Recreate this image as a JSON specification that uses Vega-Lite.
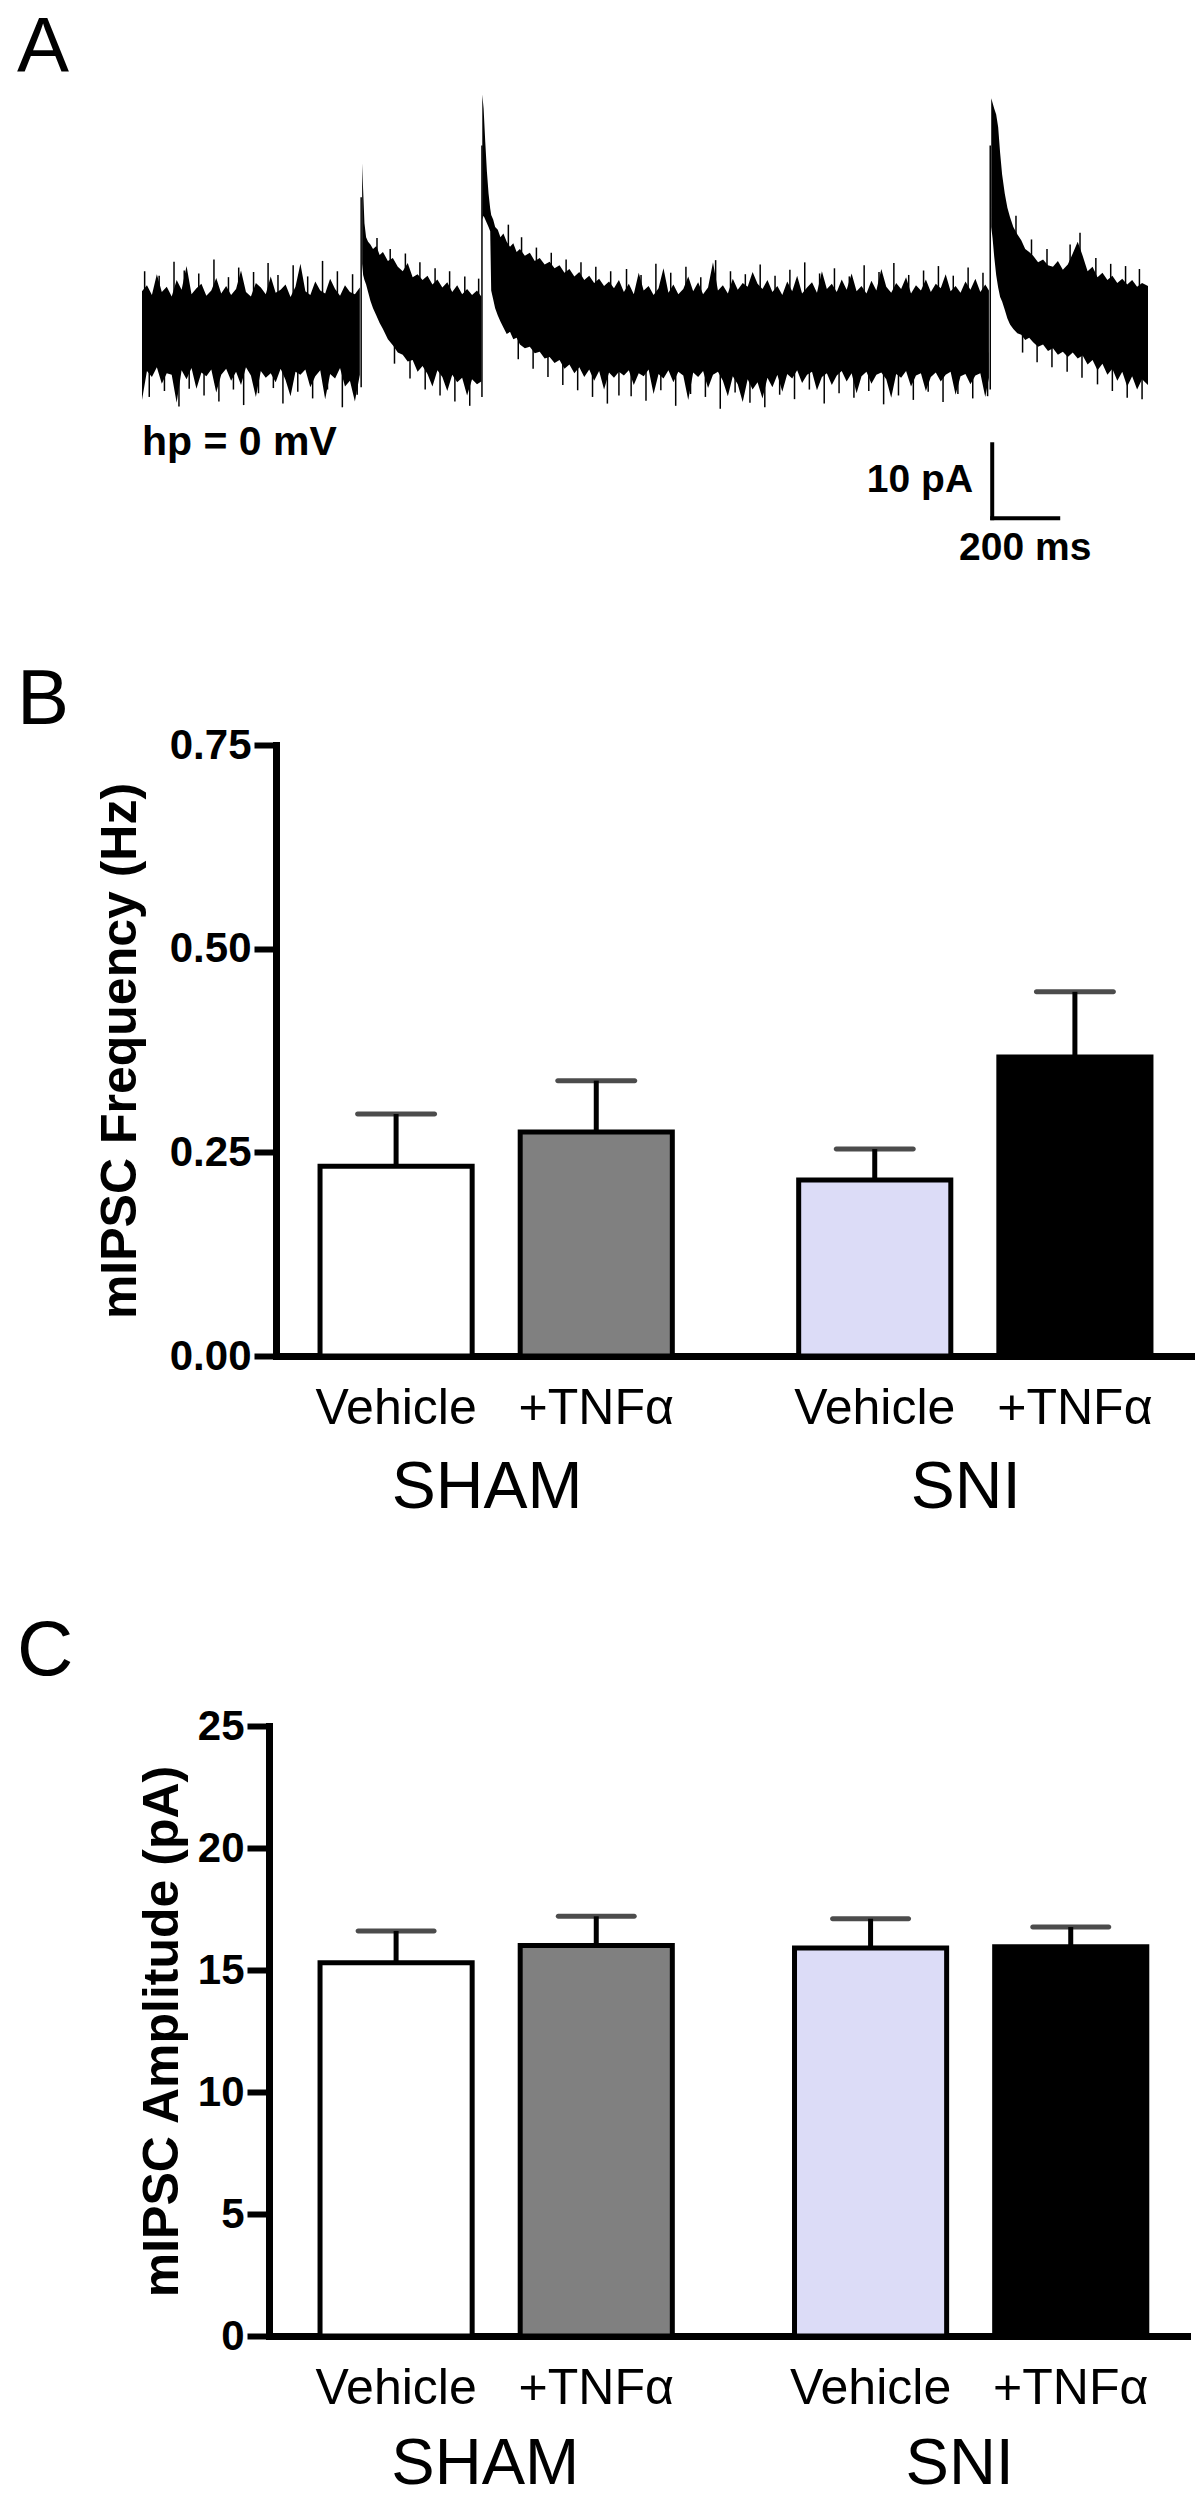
{
  "$schema": "https://vega.github.io/schema/vega-lite/v6.json",
  "background": "white",
  "padding": {"left": 17, "top": 10, "right": 0, "bottom": 0},
  "config": {
    "view": {"stroke": null},
    "font": "Liberation Sans",
    "text": {"font": "Liberation Sans", "color": "black"},
    "axis": {
      "domainColor": "black", "domainWidth": 7, "domainCap": "square",
      "tickColor": "black", "tickWidth": 6, "tickSize": 22,
      "labelColor": "black", "labelFont": "Liberation Sans", "labelFontSize": 42, "labelFontWeight": "bold", "labelPadding": 3,
      "labelFlush": false, "labelOverlap": false, "labelBound": false, "labelLimit": 0,
      "titleColor": "black", "titleFont": "Liberation Sans", "titleFontSize": 50, "titleFontWeight": "bold",
      "grid": false
    },
    "axisX": {"ticks": false, "tickSize": 0, "labelFontSize": 66, "labelFontWeight": "normal", "labelPadding": 99, "labelAngle": 0, "labelOffset": -9, "labelLimit": 0}
  },
  "columns": 1,
  "spacing": 93,
  "concat": [
    {
      "width": 872,
      "height": 488,
      "title": {"text": "A", "anchor": "start", "frame": "group", "fontSize": 78, "fontWeight": "normal", "font": "Liberation Sans", "color": "black", "dx": -259, "offset": -71, "baseline": "alphabetic"},
      "layer": [
        {
          "data": {"values": [
            {"s":1,"t":0,"h":5.3,"l":-9.4},{"s":1,"t":15,"h":6.1,"l":-5.5},{"s":1,"t":30,"h":4.8,"l":-6.3},{"s":1,"t":45,"h":7.6,"l":-5.0},{"s":1,"t":60,"h":5.2,"l":-7.2},
            {"s":1,"t":75,"h":5.9,"l":-5.8},{"s":1,"t":90,"h":4.6,"l":-6.0},{"s":1,"t":105,"h":6.8,"l":-9.8},{"s":1,"t":120,"h":5.5,"l":-5.4},{"s":1,"t":135,"h":8.7,"l":-6.6},
            {"s":1,"t":150,"h":4.9,"l":-5.1},{"s":1,"t":165,"h":5.7,"l":-7.9},{"s":1,"t":180,"h":6.3,"l":-5.7},{"s":1,"t":195,"h":4.7,"l":-6.2},{"s":1,"t":210,"h":5.4,"l":-5.3},
            {"s":1,"t":225,"h":7.1,"l":-8.4},{"s":1,"t":240,"h":5.0,"l":-6.0},{"s":1,"t":255,"h":6.0,"l":-5.2},{"s":1,"t":270,"h":4.8,"l":-6.8},{"s":1,"t":285,"h":5.6,"l":-5.6},
            {"s":1,"t":300,"h":8.1,"l":-7.4},{"s":1,"t":315,"h":5.2,"l":-5.0},{"s":1,"t":330,"h":4.6,"l":-6.1},{"s":1,"t":345,"h":6.4,"l":-9.0},{"s":1,"t":360,"h":5.8,"l":-5.5},
            {"s":1,"t":375,"h":4.9,"l":-6.4},{"s":1,"t":390,"h":7.3,"l":-5.8},{"s":1,"t":405,"h":5.1,"l":-7.0},{"s":1,"t":420,"h":5.5,"l":-5.2},{"s":1,"t":435,"h":6.2,"l":-6.7},
            {"s":1,"t":450,"h":4.5,"l":-8.9},{"s":1,"t":465,"h":5.9,"l":-5.6},{"s":1,"t":480,"h":9.0,"l":-6.0},{"s":1,"t":495,"h":5.3,"l":-5.3},{"s":1,"t":510,"h":4.8,"l":-7.7},
            {"s":1,"t":525,"h":6.6,"l":-6.2},{"s":1,"t":540,"h":5.4,"l":-5.4},{"s":1,"t":555,"h":5.0,"l":-9.3},{"s":1,"t":570,"h":7.0,"l":-5.9},{"s":1,"t":585,"h":5.6,"l":-6.5},
            {"s":1,"t":600,"h":4.7,"l":-5.1},{"s":1,"t":615,"h":6.1,"l":-7.6},{"s":1,"t":630,"h":5.2,"l":-6.8},{"s":1,"t":645,"h":4.9,"l":-9.6},{"s":1,"t":660,"h":5.8,"l":-6.0},
            {"s":2,"t":667,"h":22.6,"l":9.0},{"s":2,"t":670,"h":19.0,"l":7.5},{"s":2,"t":674,"h":14.5,"l":6.8},{"s":2,"t":679,"h":12.6,"l":6.2},{"s":2,"t":685,"h":12.0,"l":5.2},
            {"s":2,"t":692,"h":11.6,"l":4.0},{"s":2,"t":700,"h":11.0,"l":3.0},{"s":2,"t":710,"h":11.4,"l":2.0},{"s":2,"t":720,"h":10.2,"l":1.0},{"s":2,"t":730,"h":10.6,"l":0.2},
            {"s":2,"t":745,"h":9.4,"l":-1.2},{"s":2,"t":760,"h":9.8,"l":-2.0},{"s":2,"t":775,"h":8.6,"l":-3.0},{"s":2,"t":790,"h":8.0,"l":-3.3},{"s":2,"t":805,"h":9.1,"l":-4.2},
            {"s":2,"t":820,"h":7.2,"l":-4.0},{"s":2,"t":835,"h":7.6,"l":-5.6},{"s":2,"t":850,"h":6.8,"l":-4.8},{"s":2,"t":865,"h":7.4,"l":-5.9},{"s":2,"t":880,"h":6.2,"l":-7.6},
            {"s":2,"t":895,"h":6.9,"l":-5.4},{"s":2,"t":910,"h":5.8,"l":-6.3},{"s":2,"t":925,"h":6.5,"l":-8.2},{"s":2,"t":940,"h":5.2,"l":-6.0},{"s":2,"t":955,"h":6.1,"l":-7.0},
            {"s":2,"t":970,"h":4.9,"l":-6.4},{"s":2,"t":985,"h":5.6,"l":-8.8},{"s":2,"t":1000,"h":4.8,"l":-6.6},{"s":2,"t":1015,"h":5.4,"l":-7.3},{"s":2,"t":1028,"h":4.6,"l":-6.9},
            {"s":3,"t":1031,"h":31.9,"l":15.0},{"s":3,"t":1035,"h":30.0,"l":15.5},{"s":3,"t":1040,"h":25.5,"l":15.0},{"s":3,"t":1045,"h":21.5,"l":14.5},{"s":3,"t":1050,"h":18.5,"l":14.0},
            {"s":3,"t":1055,"h":16.5,"l":13.4},{"s":3,"t":1058,"h":15.6,"l":5.4},{"s":3,"t":1064,"h":15.0,"l":4.2},{"s":3,"t":1070,"h":14.0,"l":3.0},{"s":3,"t":1078,"h":13.6,"l":2.0},
            {"s":3,"t":1086,"h":12.6,"l":1.2},{"s":3,"t":1095,"h":13.1,"l":0.4},{"s":3,"t":1105,"h":12.0,"l":-0.5},{"s":3,"t":1115,"h":11.3,"l":-0.2},{"s":3,"t":1125,"h":11.8,"l":-1.2},
            {"s":3,"t":1135,"h":10.6,"l":-1.0},{"s":3,"t":1145,"h":11.0,"l":-1.9},{"s":3,"t":1160,"h":10.1,"l":-2.4},{"s":3,"t":1175,"h":10.5,"l":-2.2},{"s":3,"t":1190,"h":9.4,"l":-3.1},
            {"s":3,"t":1205,"h":9.8,"l":-2.9},{"s":3,"t":1220,"h":8.9,"l":-3.8},{"s":3,"t":1235,"h":9.3,"l":-3.6},{"s":3,"t":1250,"h":8.4,"l":-4.4},{"s":3,"t":1265,"h":8.8,"l":-4.0},
            {"s":3,"t":1280,"h":7.8,"l":-5.2},{"s":3,"t":1295,"h":8.3,"l":-4.6},{"s":3,"t":1310,"h":7.3,"l":-5.8},{"s":3,"t":1325,"h":7.9,"l":-5.0},{"s":3,"t":1340,"h":6.8,"l":-6.3},
            {"s":3,"t":1355,"h":7.4,"l":-5.3},{"s":3,"t":1370,"h":6.4,"l":-6.8},{"s":3,"t":1385,"h":7.0,"l":-5.5},{"s":3,"t":1400,"h":6.0,"l":-8.0},{"s":3,"t":1415,"h":6.6,"l":-5.7},
            {"s":3,"t":1430,"h":5.7,"l":-6.4},{"s":3,"t":1445,"h":6.8,"l":-5.6},{"s":3,"t":1460,"h":5.2,"l":-6.1},{"s":3,"t":1475,"h":6.3,"l":-5.4},{"s":3,"t":1490,"h":4.9,"l":-7.4},
            {"s":3,"t":1505,"h":7.8,"l":-5.8},{"s":3,"t":1520,"h":5.4,"l":-6.2},{"s":3,"t":1535,"h":6.0,"l":-5.3},{"s":3,"t":1550,"h":4.8,"l":-8.6},{"s":3,"t":1565,"h":5.7,"l":-5.9},
            {"s":3,"t":1580,"h":8.4,"l":-6.5},{"s":3,"t":1595,"h":5.1,"l":-5.4},{"s":3,"t":1610,"h":6.2,"l":-7.0},{"s":3,"t":1625,"h":4.9,"l":-5.6},{"s":3,"t":1640,"h":5.6,"l":-6.1},
            {"s":3,"t":1655,"h":7.3,"l":-9.4},{"s":3,"t":1670,"h":5.3,"l":-5.7},{"s":3,"t":1685,"h":6.5,"l":-6.3},{"s":3,"t":1700,"h":4.9,"l":-5.5},{"s":3,"t":1715,"h":5.8,"l":-7.8},
            {"s":3,"t":1730,"h":9.2,"l":-6.0},{"s":3,"t":1745,"h":5.4,"l":-5.6},{"s":3,"t":1760,"h":6.1,"l":-6.8},{"s":3,"t":1775,"h":5.0,"l":-8.9},{"s":3,"t":1790,"h":7.0,"l":-6.2},
            {"s":3,"t":1805,"h":5.5,"l":-7.3},{"s":3,"t":1820,"h":6.4,"l":-9.7},{"s":3,"t":1835,"h":5.9,"l":-6.6},{"s":3,"t":1850,"h":7.9,"l":-8.0},{"s":3,"t":1865,"h":6.3,"l":-7.0},
            {"s":3,"t":1880,"h":5.6,"l":-9.2},{"s":3,"t":1895,"h":6.8,"l":-6.4},{"s":3,"t":1910,"h":5.2,"l":-7.7},{"s":3,"t":1925,"h":6.0,"l":-6.0},{"s":3,"t":1940,"h":4.8,"l":-8.3},
            {"s":3,"t":1955,"h":6.6,"l":-5.9},{"s":3,"t":1970,"h":5.3,"l":-6.5},{"s":3,"t":1985,"h":7.4,"l":-5.4},{"s":3,"t":2000,"h":5.0,"l":-7.1},{"s":3,"t":2015,"h":5.8,"l":-6.0},
            {"s":3,"t":2030,"h":6.5,"l":-5.6},{"s":3,"t":2045,"h":5.1,"l":-8.1},{"s":3,"t":2060,"h":8.0,"l":-6.3},{"s":3,"t":2075,"h":5.6,"l":-5.8},{"s":3,"t":2090,"h":6.3,"l":-7.4},
            {"s":3,"t":2105,"h":5.2,"l":-6.1},{"s":3,"t":2120,"h":6.9,"l":-5.5},{"s":3,"t":2135,"h":5.5,"l":-6.9},{"s":3,"t":2150,"h":7.7,"l":-5.8},{"s":3,"t":2165,"h":5.3,"l":-8.5},
            {"s":3,"t":2180,"h":6.0,"l":-6.2},{"s":3,"t":2195,"h":5.0,"l":-5.6},{"s":3,"t":2210,"h":6.7,"l":-7.2},{"s":3,"t":2225,"h":5.4,"l":-6.0},{"s":3,"t":2240,"h":8.3,"l":-5.7},
            {"s":3,"t":2255,"h":5.9,"l":-6.6},{"s":3,"t":2270,"h":5.1,"l":-9.1},{"s":3,"t":2285,"h":6.4,"l":-5.9},{"s":3,"t":2300,"h":5.6,"l":-6.4},{"s":3,"t":2315,"h":7.2,"l":-5.5},
            {"s":3,"t":2330,"h":5.0,"l":-7.6},{"s":3,"t":2345,"h":6.1,"l":-6.1},{"s":3,"t":2360,"h":5.4,"l":-5.8},{"s":3,"t":2375,"h":6.9,"l":-8.2},{"s":3,"t":2390,"h":5.2,"l":-6.3},
            {"s":3,"t":2405,"h":6.3,"l":-5.7},{"s":3,"t":2420,"h":5.7,"l":-6.9},{"s":3,"t":2435,"h":7.6,"l":-6.0},{"s":3,"t":2450,"h":5.3,"l":-5.6},{"s":3,"t":2465,"h":6.0,"l":-8.7},
            {"s":3,"t":2480,"h":5.1,"l":-6.2},{"s":3,"t":2495,"h":6.6,"l":-5.9},{"s":3,"t":2510,"h":5.5,"l":-7.3},{"s":3,"t":2525,"h":7.0,"l":-6.1},{"s":3,"t":2540,"h":5.2,"l":-5.8},
            {"s":3,"t":2555,"h":6.2,"l":-9.0},{"s":3,"t":2566,"h":5.4,"l":-6.4},
            {"s":4,"t":2573,"h":31.4,"l":14.0},{"s":4,"t":2577,"h":30.8,"l":12.5},{"s":4,"t":2582,"h":30.0,"l":10.0},{"s":4,"t":2588,"h":29.2,"l":7.5},{"s":4,"t":2594,"h":27.5,"l":5.8},
            {"s":4,"t":2600,"h":24.0,"l":4.5},{"s":4,"t":2606,"h":21.1,"l":3.9},{"s":4,"t":2614,"h":18.5,"l":2.8},{"s":4,"t":2622,"h":16.6,"l":1.6},{"s":4,"t":2630,"h":15.3,"l":0.8},
            {"s":4,"t":2640,"h":14.0,"l":0.2},{"s":4,"t":2652,"h":13.0,"l":-0.4},{"s":4,"t":2664,"h":12.2,"l":-0.6},{"s":4,"t":2676,"h":11.0,"l":-1.3},{"s":4,"t":2688,"h":10.6,"l":-1.0},
            {"s":4,"t":2700,"h":10.1,"l":-1.6},{"s":4,"t":2715,"h":9.2,"l":-2.2},{"s":4,"t":2730,"h":9.6,"l":-1.9},{"s":4,"t":2745,"h":8.8,"l":-2.8},{"s":4,"t":2760,"h":8.6,"l":-2.4},
            {"s":4,"t":2775,"h":9.4,"l":-3.3},{"s":4,"t":2790,"h":8.2,"l":-2.9},{"s":4,"t":2805,"h":8.9,"l":-3.6},{"s":4,"t":2820,"h":10.4,"l":-3.0},{"s":4,"t":2835,"h":12.0,"l":-3.8},
            {"s":4,"t":2850,"h":10.1,"l":-3.4},{"s":4,"t":2865,"h":8.0,"l":-4.6},{"s":4,"t":2880,"h":8.6,"l":-4.0},{"s":4,"t":2895,"h":7.2,"l":-5.4},{"s":4,"t":2910,"h":7.8,"l":-4.5},
            {"s":4,"t":2925,"h":6.8,"l":-6.0},{"s":4,"t":2940,"h":7.4,"l":-5.2},{"s":4,"t":2955,"h":6.4,"l":-6.8},{"s":4,"t":2970,"h":7.0,"l":-5.6},{"s":4,"t":2985,"h":6.2,"l":-7.6},
            {"s":4,"t":3000,"h":6.8,"l":-6.2},{"s":4,"t":3015,"h":5.9,"l":-8.0},{"s":4,"t":3030,"h":6.4,"l":-6.6},{"s":4,"t":3048,"h":6.0,"l":-7.4}
          ]},
          "mark": {"type": "area", "color": "black", "interpolate": "linear"},
          "encoding": {
            "x": {"field": "t", "type": "quantitative", "scale": {"domain": [406, 3048], "nice": false, "zero": false}, "axis": null},
            "y": {"field": "h", "type": "quantitative", "scale": {"domain": [-32, 34], "nice": false, "zero": false}, "axis": null},
            "y2": {"field": "l"},
            "detail": {"field": "s", "type": "nominal"}
          }
        },
        {
          "data": {"values": [
            {"t":664,"b":-7.7,"e":18},{"t":1030,"b":-9,"e":25},{"t":2570,"b":-8,"e":25},
            {"t":8,"b":3,"e":8.0},{"t":52,"b":3,"e":7.4},{"t":97,"b":3,"e":9.3},{"t":128,"b":3,"e":8.1},{"t":172,"b":3,"e":7.7},{"t":218,"b":3,"e":9.6},{"t":262,"b":3,"e":7.2},{"t":293,"b":3,"e":8.5},
            {"t":338,"b":3,"e":7.9},{"t":382,"b":3,"e":9.1},{"t":412,"b":3,"e":7.5},{"t":458,"b":3,"e":8.8},{"t":502,"b":3,"e":7.3},{"t":547,"b":3,"e":9.4},{"t":592,"b":3,"e":8.0},{"t":638,"b":3,"e":7.6},
            {"t":22,"b":-3,"e":-9.0},{"t":68,"b":-3,"e":-8.2},{"t":112,"b":-3,"e":-10.3},{"t":143,"b":-3,"e":-7.9},{"t":188,"b":-3,"e":-8.8},{"t":233,"b":-3,"e":-9.6},{"t":277,"b":-3,"e":-8.0},{"t":308,"b":-3,"e":-10.1},
            {"t":353,"b":-3,"e":-8.5},{"t":398,"b":-3,"e":-7.8},{"t":427,"b":-3,"e":-9.9},{"t":472,"b":-3,"e":-8.3},{"t":517,"b":-3,"e":-9.2},{"t":562,"b":-3,"e":-8.0},{"t":607,"b":-3,"e":-10.4},{"t":652,"b":-3,"e":-8.7},
            {"t":712,"b":8,"e":12.5},{"t":752,"b":6,"e":11.0},{"t":798,"b":5,"e":10.4},{"t":842,"b":4,"e":9.2},{"t":888,"b":3,"e":8.4},{"t":932,"b":3,"e":8.0},{"t":978,"b":2,"e":7.3},{"t":1020,"b":2,"e":7.0},
            {"t":765,"b":0,"e":-4.5},{"t":812,"b":-1,"e":-6.5},{"t":858,"b":-2,"e":-8.0},{"t":903,"b":-3,"e":-8.8},{"t":948,"b":-3,"e":-9.6},{"t":993,"b":-3,"e":-10.2},
            {"t":1110,"b":9,"e":14.3},{"t":1150,"b":8,"e":12.6},{"t":1195,"b":7,"e":11.2},{"t":1240,"b":6,"e":10.5},{"t":1285,"b":5,"e":9.6},{"t":1330,"b":4,"e":9.2},{"t":1375,"b":4,"e":8.6},{"t":1420,"b":3,"e":8.0},
            {"t":1140,"b":1,"e":-3.9},{"t":1185,"b":0,"e":-5.2},{"t":1230,"b":-1,"e":-6.3},{"t":1275,"b":-2,"e":-7.4},{"t":1320,"b":-3,"e":-8.1},{"t":1365,"b":-3,"e":-9.0},{"t":1410,"b":-3,"e":-9.9},{"t":1445,"b":-3,"e":-8.8},
            {"t":1468,"b":3,"e":8.3},{"t":1512,"b":3,"e":7.5},{"t":1557,"b":3,"e":9.0},{"t":1602,"b":3,"e":7.8},{"t":1648,"b":3,"e":8.6},{"t":1693,"b":3,"e":7.2},{"t":1738,"b":3,"e":9.5},{"t":1783,"b":3,"e":8.0},
            {"t":1828,"b":3,"e":7.6},{"t":1873,"b":3,"e":8.9},{"t":1918,"b":3,"e":7.4},{"t":1963,"b":3,"e":8.2},{"t":2008,"b":3,"e":9.2},{"t":2053,"b":3,"e":7.7},{"t":2098,"b":3,"e":8.4},{"t":2143,"b":3,"e":7.3},
            {"t":2188,"b":3,"e":8.8},{"t":2233,"b":3,"e":7.9},{"t":2278,"b":3,"e":9.1},{"t":2323,"b":3,"e":7.5},{"t":2368,"b":3,"e":8.1},{"t":2413,"b":3,"e":8.7},{"t":2458,"b":3,"e":7.4},{"t":2503,"b":3,"e":8.5},{"t":2548,"b":3,"e":7.8},
            {"t":1482,"b":-3,"e":-8.9},{"t":1527,"b":-3,"e":-9.5},{"t":1572,"b":-3,"e":-8.1},{"t":1617,"b":-3,"e":-10.2},{"t":1662,"b":-3,"e":-8.6},{"t":1707,"b":-3,"e":-9.0},{"t":1752,"b":-3,"e":-10.6},{"t":1797,"b":-3,"e":-8.4},
            {"t":1842,"b":-3,"e":-9.8},{"t":1887,"b":-3,"e":-10.4},{"t":1932,"b":-3,"e":-8.7},{"t":1977,"b":-3,"e":-9.3},{"t":2022,"b":-3,"e":-8.0},{"t":2067,"b":-3,"e":-9.9},{"t":2112,"b":-3,"e":-8.5},{"t":2157,"b":-3,"e":-9.1},
            {"t":2202,"b":-3,"e":-8.2},{"t":2247,"b":-3,"e":-10.0},{"t":2292,"b":-3,"e":-8.8},{"t":2337,"b":-3,"e":-9.4},{"t":2382,"b":-3,"e":-8.3},{"t":2427,"b":-3,"e":-9.7},{"t":2472,"b":-3,"e":-8.6},{"t":2517,"b":-3,"e":-9.2},{"t":2562,"b":-3,"e":-8.9},
            {"t":2648,"b":10,"e":15.5},{"t":2695,"b":8,"e":12.3},{"t":2742,"b":7,"e":11.0},{"t":2812,"b":7,"e":11.6},{"t":2842,"b":8,"e":13.2},{"t":2890,"b":5,"e":9.8},{"t":2935,"b":4,"e":9.0},{"t":2980,"b":4,"e":8.7},{"t":3022,"b":3,"e":8.3},
            {"t":2668,"b":1,"e":-3.0},{"t":2712,"b":0,"e":-4.3},{"t":2757,"b":-1,"e":-5.0},{"t":2803,"b":-1,"e":-5.6},{"t":2848,"b":-2,"e":-6.4},{"t":2895,"b":-2,"e":-7.3},{"t":2940,"b":-3,"e":-8.2},{"t":2985,"b":-3,"e":-9.1},{"t":3030,"b":-3,"e":-9.3}
          ]},
          "mark": {"type": "rule", "color": "black", "strokeWidth": 1.5},
          "encoding": {
            "x": {"field": "t", "type": "quantitative"},
            "y": {"field": "b", "type": "quantitative"},
            "y2": {"field": "e"}
          }
        },
        {
          "data": {"values": [{"label": "hp = 0 mV"}]},
          "mark": {"type": "text", "align": "left", "baseline": "alphabetic", "fontSize": 41, "fontWeight": "bold"},
          "encoding": {"x": {"datum": 0, "type": "quantitative"}, "y": {"datum": -16.8, "type": "quantitative"}, "text": {"field": "label"}}
        },
        {
          "data": {"values": [{"label": "10 pA"}]},
          "mark": {"type": "text", "align": "right", "baseline": "alphabetic", "fontSize": 39, "fontWeight": "bold"},
          "encoding": {"x": {"datum": 2518, "type": "quantitative"}, "y": {"datum": -21.9, "type": "quantitative"}, "text": {"field": "label"}}
        },
        {
          "data": {"values": [{"label": "200 ms"}]},
          "mark": {"type": "text", "align": "center", "baseline": "alphabetic", "fontSize": 39, "fontWeight": "bold"},
          "encoding": {"x": {"datum": 2676, "type": "quantitative"}, "y": {"datum": -31.1, "type": "quantitative"}, "text": {"field": "label"}}
        },
        {
          "data": {"values": [{"bar": "10 pA"}]},
          "mark": {"type": "rule", "color": "black", "strokeWidth": 4, "strokeCap": "square"},
          "encoding": {"x": {"datum": 2576, "type": "quantitative"}, "y": {"datum": -15.4, "type": "quantitative"}, "y2": {"datum": -25.4}}
        },
        {
          "data": {"values": [{"bar": "200 ms"}]},
          "mark": {"type": "rule", "color": "black", "strokeWidth": 4, "strokeCap": "square"},
          "encoding": {"x": {"datum": 2576, "type": "quantitative"}, "x2": {"datum": 2776}, "y": {"datum": -25.4, "type": "quantitative"}}
        }
      ]
    },
    {
      "width": 919,
      "height": 611,
      "title": {"text": "B", "anchor": "start", "frame": "group", "fontSize": 78, "fontWeight": "normal", "font": "Liberation Sans", "color": "black", "dx": -259, "offset": -78, "baseline": "alphabetic"},
      "data": {"values": [
        {"group": "SHAM", "treat": "Vehicle", "cond": "SHAM Vehicle", "mean": 0.233, "upper": 0.297},
        {"group": "SHAM", "treat": "+TNFα", "cond": "SHAM +TNFα", "mean": 0.275, "upper": 0.338},
        {"group": "SNI", "treat": "Vehicle", "cond": "SNI Vehicle", "mean": 0.216, "upper": 0.254},
        {"group": "SNI", "treat": "+TNFα", "cond": "SNI +TNFα", "mean": 0.367, "upper": 0.447}
      ]},
      "encoding": {
        "x": {"field": "group", "type": "nominal", "sort": ["SHAM", "SNI"], "scale": {"paddingInner": 0.08, "paddingOuter": 0}, "axis": {"title": null}},
        "xOffset": {"field": "treat", "type": "nominal", "sort": ["Vehicle", "+TNFα"], "scale": {"paddingInner": 0.24, "paddingOuter": 0.22}}
      },
      "layer": [
        {
          "mark": {"type": "bar", "stroke": "black", "strokeWidth": 5},
          "encoding": {
            "y": {"field": "mean", "type": "quantitative", "title": "mIPSC Frequency (Hz)", "scale": {"domain": [0, 0.75], "nice": false}, "axis": {"values": [0, 0.25, 0.5, 0.75], "format": ".2f", "titlePadding": 24}},
            "fill": {"field": "cond", "type": "nominal", "scale": {"domain": ["SHAM Vehicle", "SHAM +TNFα", "SNI Vehicle", "SNI +TNFα"], "range": ["#ffffff", "#808080", "#dcdcf7", "#000000"]}, "legend": null}
          }
        },
        {
          "mark": {"type": "rule", "color": "black", "strokeWidth": 5},
          "encoding": {"y": {"field": "mean", "type": "quantitative", "title": "mIPSC Frequency (Hz)"}, "y2": {"field": "upper"}}
        },
        {
          "mark": {"type": "tick", "color": "black", "thickness": 5, "size": 82, "cornerRadius": 2.5},
          "encoding": {"y": {"field": "upper", "type": "quantitative", "title": "mIPSC Frequency (Hz)"}}
        },
        {
          "mark": {"type": "text", "baseline": "top", "dy": 28, "fontSize": 50, "color": "black"},
          "encoding": {"y": {"datum": 0, "type": "quantitative"}, "text": {"field": "treat"}}
        }
      ]
    },
    {
      "width": 911,
      "height": 610,
      "title": {"text": "C", "anchor": "start", "frame": "group", "fontSize": 78, "fontWeight": "normal", "font": "Liberation Sans", "color": "black", "dx": -259, "offset": -48, "baseline": "alphabetic"},
      "data": {"values": [
        {"group": "SHAM", "treat": "Vehicle", "cond": "SHAM Vehicle", "mean": 15.3, "upper": 16.6},
        {"group": "SHAM", "treat": "+TNFα", "cond": "SHAM +TNFα", "mean": 16.0, "upper": 17.2},
        {"group": "SNI", "treat": "Vehicle", "cond": "SNI Vehicle", "mean": 15.9, "upper": 17.1},
        {"group": "SNI", "treat": "+TNFα", "cond": "SNI +TNFα", "mean": 15.95, "upper": 16.76}
      ]},
      "encoding": {
        "x": {"field": "group", "type": "nominal", "sort": ["SHAM", "SNI"], "scale": {"paddingInner": 0.08, "paddingOuter": 0}, "axis": {"title": null, "labelPadding": 96, "labelFontSize": 65}},
        "xOffset": {"field": "treat", "type": "nominal", "sort": ["Vehicle", "+TNFα"], "scale": {"paddingInner": 0.24, "paddingOuter": 0.22}}
      },
      "layer": [
        {
          "mark": {"type": "bar", "stroke": "black", "strokeWidth": 5},
          "encoding": {
            "y": {"field": "mean", "type": "quantitative", "title": "mIPSC Amplitude (pA)", "scale": {"domain": [0, 25], "nice": false}, "axis": {"values": [0, 5, 10, 15, 20, 25], "offset": 7, "titlePadding": 10}},
            "fill": {"field": "cond", "type": "nominal", "scale": {"domain": ["SHAM Vehicle", "SHAM +TNFα", "SNI Vehicle", "SNI +TNFα"], "range": ["#ffffff", "#808080", "#dcdcf7", "#000000"]}, "legend": null}
          }
        },
        {
          "mark": {"type": "rule", "color": "black", "strokeWidth": 5},
          "encoding": {"y": {"field": "mean", "type": "quantitative", "title": "mIPSC Amplitude (pA)"}, "y2": {"field": "upper"}}
        },
        {
          "mark": {"type": "tick", "color": "black", "thickness": 5, "size": 81, "cornerRadius": 2.5},
          "encoding": {"y": {"field": "upper", "type": "quantitative", "title": "mIPSC Amplitude (pA)"}}
        },
        {
          "mark": {"type": "text", "baseline": "top", "dy": 28, "fontSize": 50, "color": "black"},
          "encoding": {"y": {"datum": 0, "type": "quantitative"}, "text": {"field": "treat"}}
        }
      ]
    }
  ]
}
